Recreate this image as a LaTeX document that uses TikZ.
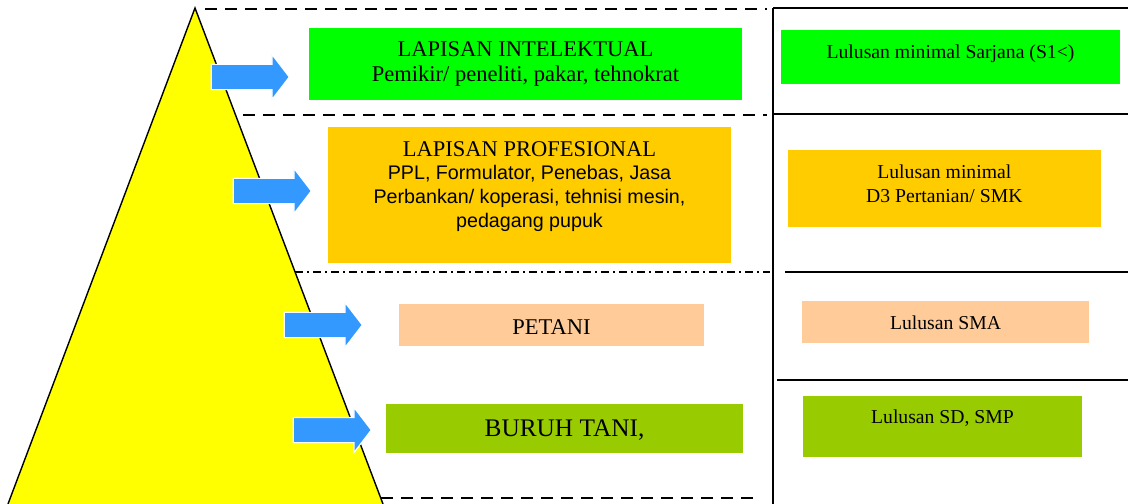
\documentclass[tikz,border=0pt]{standalone}
\usepackage{fontspec}
\setmainfont{Liberation Serif}
\setsansfont{Liberation Sans}
\usetikzlibrary{shapes.arrows}
\definecolor{pyramid}{HTML}{FFFF00}
\definecolor{intelgreen}{HTML}{00FF00}
\definecolor{profgold}{HTML}{FFCC00}
\definecolor{farmpeach}{HTML}{FFCC99}
\definecolor{laborolive}{HTML}{99CC00}
\definecolor{arrowblue}{HTML}{3399FF}
\tikzset{
  layerbox/.style={fill=#1,inner sep=0pt},
  gradbox/.style={fill=#1,inner sep=0pt,font=\fontsize{14}{17}\selectfont},
  blockarrow/.style={single arrow,fill=arrowblue,draw=white,line width=0.8pt,inner xsep=0pt,inner ysep=0.3cm,
    minimum height=1.95cm,single arrow head extend=0.25cm,single arrow tip angle=105,anchor=tip},
  sepline/.style={line width=0.8pt,dash pattern=on 0.3cm off 0.2cm}
}
\begin{document}
\begin{tikzpicture}[x=0.025cm,y=-0.025cm]
\useasboundingbox (0,0) rectangle (1128,504);
% pyramid and layer borders
\fill[pyramid] (195,8) -- (8,504) -- (383,504) -- cycle;
\draw[line width=1pt] (8,504) -- (195,8) -- (383,504);
\draw[sepline] (205,9) -- (767,9);
\draw[sepline] (243,115) -- (767,115);
\draw[line width=0.8pt,dash pattern=on 0.2cm off 0.1cm on 0.05cm off 0.1cm] (295,272) -- (770,272);
\draw[sepline] (381,498) -- (756,498);
% right column
\draw[line width=1pt] (773,8) -- (773,504);
\draw[line width=1pt] (773,8) -- (1128,8);
\draw[line width=0.8pt] (773,114) -- (1128,114);
\draw[line width=0.8pt] (785,272) -- (1128,272);
\draw[line width=0.8pt] (777,380) -- (1128,380);
% layers
\node[layerbox=intelgreen,minimum width=10.825cm,minimum height=1.8cm,align=center,font=\fontsize{16}{18}\selectfont] (intel) at (525.5,64) {LAPISAN INTELEKTUAL\\Pemikir/ peneliti, pakar, tehnokrat};
\node[layerbox=profgold,minimum width=10.075cm,minimum height=3.4cm] (prof) at (529.5,195) {};
\node[align=center,inner sep=0pt,font=\fontsize{14}{17}\selectfont\sffamily] (profT) at (529.5,186.5) {{\rmfamily\fontsize{16}{17}\selectfont LAPISAN PROFESIONAL}\\PPL, Formulator, Penebas, Jasa\\Perbankan/ koperasi, tehnisi mesin,\\pedagang pupuk};
\node[layerbox=farmpeach,minimum width=7.625cm,minimum height=1.05cm,font=\fontsize{16}{19}\selectfont,text height=12.8pt,text depth=0pt] (petani) at (551.5,325) {PETANI};
\node[layerbox=laborolive,minimum width=8.925cm,minimum height=1.22cm,font=\fontsize{18}{21}\selectfont,text height=12pt,text depth=1pt] (buruh) at (564.5,428.3) {BURUH TANI,};
% schooling
\node[gradbox=intelgreen,minimum width=8.475cm,minimum height=1.35cm,text height=10pt,text depth=7.2pt] (sarjana) at (950.5,57) {Lulusan minimal Sarjana (S1<)};
\node[gradbox=profgold,minimum width=7.82cm,minimum height=1.925cm] (diploma) at (944.3,188.5) {};
\node[align=center,inner sep=0pt,font=\fontsize{14}{17}\selectfont] (diplomaT) at (944.3,183.5) {Lulusan minimal\\D3 Pertanian/ SMK};
\node[gradbox=farmpeach,minimum width=7.175cm,minimum height=1.05cm,text height=10pt,text depth=0pt] (sma) at (945.5,322) {Lulusan SMA};
\node[gradbox=laborolive,minimum width=6.975cm,minimum height=1.525cm,text height=10pt,text depth=13.6pt] (sdsmp) at (942.5,426.5) {Lulusan SD, SMP};
% arrows
\foreach \tx/\ty [count=\k] in {290/77,312/191,363/325,372/430}
  \node[blockarrow] (arrow\k) at (\tx,\ty) {};
\end{tikzpicture}
\end{document}
